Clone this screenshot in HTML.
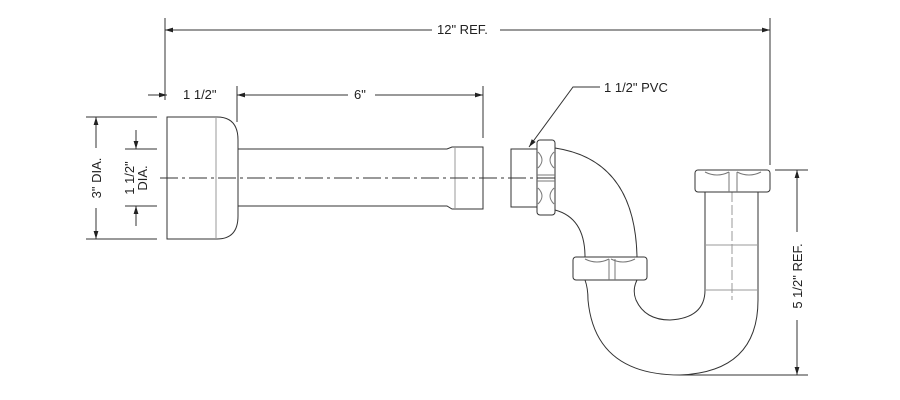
<!DOCTYPE html><html><head><style>body{margin:0;background:#fff}svg{display:block}text{font-family:"Liberation Sans",sans-serif;font-size:13px;fill:#222}</style></head><body>
<svg width="900" height="400" viewBox="0 0 900 400" xmlns="http://www.w3.org/2000/svg">
<defs><marker id="a" viewBox="0 0 10 6" refX="10" refY="3" markerWidth="8" markerHeight="5" orient="auto-start-reverse"><path d="M0,0L10,3L0,6z" fill="#222"/></marker></defs>
<g stroke="#333" stroke-width="1" fill="none">
<line x1="165" y1="18" x2="165" y2="100"/><line x1="770" y1="18" x2="770" y2="165"/>
<line x1="165" y1="30" x2="432" y2="30" marker-start="url(#a)"/><line x1="500" y1="30" x2="770" y2="30" marker-end="url(#a)"/>
<line x1="148" y1="95" x2="167" y2="95" marker-end="url(#a)"/>
<line x1="237" y1="86" x2="237" y2="122"/><line x1="483" y1="86" x2="483" y2="138"/>
<line x1="237" y1="95" x2="348" y2="95" marker-start="url(#a)"/><line x1="375" y1="95" x2="483" y2="95" marker-end="url(#a)"/>
<line x1="86" y1="117" x2="157" y2="117"/><line x1="86" y1="239" x2="157" y2="239"/>
<line x1="96" y1="117" x2="96" y2="148" marker-start="url(#a)"/><line x1="96" y1="208" x2="96" y2="239" marker-end="url(#a)"/>
<line x1="125" y1="149" x2="157" y2="149"/><line x1="125" y1="206" x2="157" y2="206"/>
<line x1="136" y1="130" x2="136" y2="149" marker-end="url(#a)"/><line x1="136" y1="226" x2="136" y2="206" marker-end="url(#a)"/>
<path d="M167,117H217Q238,117 238,140V216Q238,239 217,239H167Z"/>
<line x1="216" y1="117" x2="216" y2="239" stroke="#999"/>
<path d="M238,149H447L452,147H483V209H452L447,206H238"/>
<line x1="455" y1="147" x2="455" y2="209" stroke="#999"/>
<line x1="160" y1="178" x2="555" y2="178" stroke-dasharray="18,4,3,4"/>
<rect x="511" y="149" width="26" height="58"/>
<rect x="537" y="140" width="18" height="75" rx="3"/>
<path d="M538,152Q546,160 538,168M554,152Q546,160 554,168M538,188Q546,196 538,204M554,188Q546,196 554,204M537,175H555M537,181H555" stroke="#777"/>
<path d="M555,148Q635,160 637,257M555,210Q585,218 585,257"/>
<rect x="573" y="257" width="74" height="23" rx="3"/>
<path d="M585,259Q597,265 609,259M611,259Q623,265 635,259M609,259V280M615,259V280" stroke="#777"/>
<path d="M585,280Q588,288 588,300Q595,375 680,375Q758,372 758,300V192"/>
<path d="M637,280Q632,290 636,300Q645,320 670,320Q705,318 705,290V192"/>
<line x1="732" y1="192" x2="732" y2="300" stroke="#999" stroke-dasharray="10,3"/>
<line x1="705" y1="245" x2="758" y2="245" stroke="#999"/><line x1="705" y1="290" x2="758" y2="290" stroke="#999"/>
<rect x="695" y="170" width="75" height="22" rx="3"/>
<path d="M705,172Q717,178 729,172M737,172Q749,178 761,172M729,172V192M737,172V192" stroke="#777"/>
<line x1="775" y1="170" x2="808" y2="170"/><line x1="680" y1="375" x2="808" y2="375"/>
<line x1="797" y1="170" x2="797" y2="232" marker-start="url(#a)"/><line x1="797" y1="320" x2="797" y2="375" marker-end="url(#a)"/>
<path d="M600,87H573L529,147" marker-end="url(#a)"/>
</g>
<text x="437" y="34">12" REF.</text>
<text x="183" y="99">1 1/2"</text>
<text x="354" y="99">6"</text>
<text x="604" y="92">1 1/2" PVC</text>
<text transform="translate(101,178) rotate(-90)" text-anchor="middle">3" DIA.</text>
<text transform="translate(134,178) rotate(-90)" text-anchor="middle">1 1/2"</text>
<text transform="translate(147,178) rotate(-90)" text-anchor="middle">DIA.</text>
<text transform="translate(802,276) rotate(-90)" text-anchor="middle">5 1/2" REF.</text>
</svg></body></html>
